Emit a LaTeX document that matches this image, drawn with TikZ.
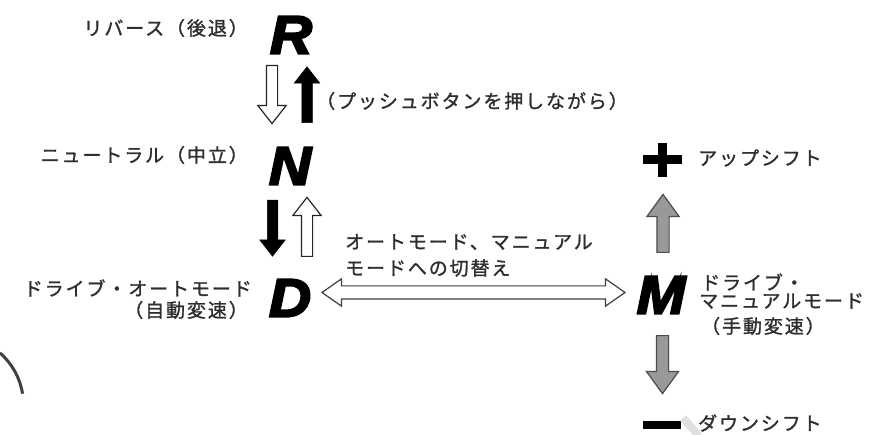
\documentclass[tikz,border=0pt]{standalone}
\usepackage{fontspec}
\newfontfamily\jpfont[LetterSpace=10, FakeBold=1.2]{Noto Sans CJK JP}
\newfontfamily\gearfont[FakeBold=4, FakeStretch=1.08]{Liberation Sans Bold Italic}
\usetikzlibrary{shapes.arrows}
\tikzset{
  gear/.style={font=\gearfont\fontsize{54}{54}\selectfont, inner sep=0},
  jptext/.style={font=\jpfont\fontsize{19}{22}\selectfont, text=black!82, inner sep=0},
  shiftarrow/.style={single arrow, inner xsep=0, inner ysep=5, minimum width=0,
    single arrow head extend=8.5, single arrow tip angle=76, line width=1.2},
  hollowarrow/.style={shiftarrow, draw=black!85, fill=white},
  solidarrow/.style={shiftarrow, draw=black, fill=black, line width=0.5,
    single arrow head extend=7.5},
  grayarrow/.style={shiftarrow, draw=black!70, fill=black!40,
    inner ysep=5.5, single arrow head extend=10, single arrow tip angle=72},
  modearrow/.style={double arrow, draw=black!75, fill=white, line width=1.2,
    inner xsep=0, inner ysep=6, minimum width=0,
    double arrow head extend=7, double arrow tip angle=70}
}
\begin{document}
\begin{tikzpicture}[x=1pt, y=-1pt]
  \fill[white] (0,0) rectangle (880,435);
  \useasboundingbox (0,0) rectangle (880,435);
  % Draw the gear letters
  \node[gear] (R) at (291,35) {R};
  \node[gear] (N) at (290,166) {N};
  \node[gear] (D) at (290,298) {D};
  \node[gear] (M) at (661,295) {M};
  % Place the labels
  \node[jptext, anchor=east] (rlabel) at (248,28) {リバース（後退）};
  \node[jptext, anchor=east] (nlabel) at (248,155) {ニュートラル（中立）};
  \node[jptext, anchor=east] (dlabel) at (252,288) {ドライブ・オートモード};
  \node[jptext, anchor=east] (dlabel2) at (248,310) {（自動変速）};
  \node[jptext, anchor=west] (push) at (316,101) {（プッシュボタンを押しながら）};
  \node[jptext, anchor=west] (switch1) at (345,242) {オートモード、マニュアル};
  \node[jptext, anchor=west] (switch2) at (345,268) {モードへの切替え};
  \node[jptext, anchor=west] (mlabel1) at (701,282) {ドライブ・};
  \node[jptext, anchor=west] (mlabel2) at (699,301) {マニュアルモード};
  \node[jptext, anchor=west] (mlabel3) at (701,326) {（手動変速）};
  \node[jptext, anchor=west] (upshift) at (698,158) {アップシフト};
  \node[jptext, anchor=west] (downshift) at (698,423) {ダウンシフト};
  % Draw arrows R <-> N and N <-> D
  \node[hollowarrow, rotate=-90, anchor=tail, minimum height=58] (rn) at (272,65) {};
  \node[solidarrow, rotate=90, anchor=tail, minimum height=56] (nr) at (307,123) {};
  \node[solidarrow, rotate=-90, anchor=tail, minimum height=56] (nd) at (272.5,200) {};
  \node[hollowarrow, rotate=90, anchor=tail, minimum height=59] (dn) at (307,257) {};
  % Draw arrow D <-> M
  \node[modearrow, minimum height=303] (dm) at (473.5,292.5) {};
  % Draw up and down shift
  \coordinate (plus) at (662.5,160);
  \coordinate (minus) at (662,425);
  \draw[line width=9] ([xshift=-19.5]plus) -- ([xshift=19.5]plus);
  \draw[line width=9] ([yshift=-17]plus) -- ([yshift=17]plus);
  \draw[line width=8] ([xshift=-19]minus) -- ([xshift=19]minus);
  \node[grayarrow, rotate=90, anchor=tail, minimum height=58] (mup) at (663,253) {};
  \node[grayarrow, rotate=-90, anchor=tail, minimum height=58] (mdown) at (662.5,335) {};
  % Stray marks
  \draw[line width=8, black!12] (683,418) -- (699,436);
  \draw[line width=3, black!75] (0,353) arc[start angle=-49, end angle=-9, radius=68];
\end{tikzpicture}
\end{document}
